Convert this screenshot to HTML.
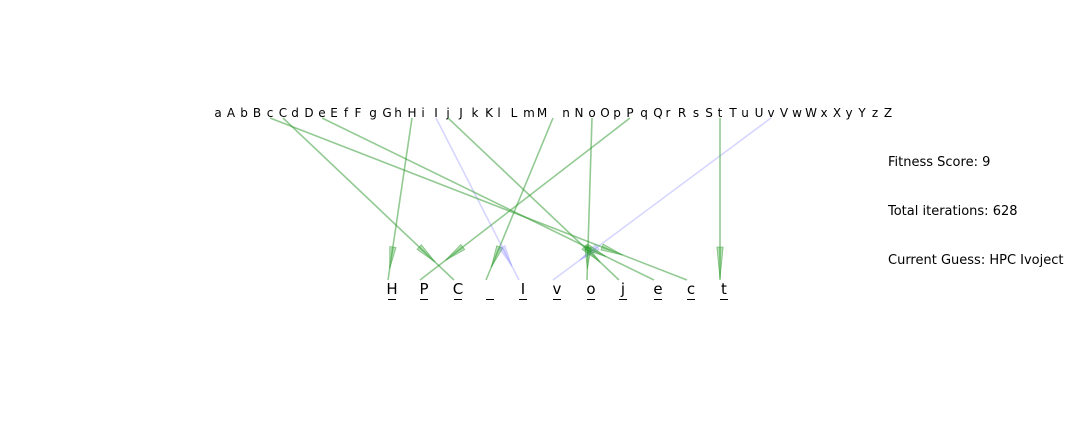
<!DOCTYPE html>
<html><head><meta charset="utf-8"><style>
html,body{margin:0;padding:0;background:#fff;}
svg{display:block;font-family:"DejaVu Sans","Liberation Sans",sans-serif;}
</style></head><body>
<svg id="chart" width="1080" height="432" viewBox="0 0 1080 432">
<g id="topRow"></g>
<g id="arrows"></g>
<g id="bottomRow"></g>
<text x="888" y="166" font-size="13">Fitness Score: 9</text>
<text x="888" y="215" font-size="13">Total iterations: 628</text>
<text x="888" y="264" font-size="13">Current Guess: HPC Ivoject</text>
</svg>
<script>
const alphabet = "aAbBcCdDeEfFgGhHiIjJkKlLmM nNoOpPqQrRsStTuUvVwWxXyYzZ".split("");
const alphaX = [218,231,244,257,270,283,295,309,322,334,346,358,373,387,398,412,423,436,448,461,475,489,499,514,529,542,553,566,579,592,605,617,630,644,658,668,682,696,709,720,733,745,759,771,784,797,811,824,837,849,862,875,888];
const guess = ["H","P","C"," ","I","v","o","j","e","c","t"];
const guessX = [392,424,458,490,523,557,591,623,658,691,724];
const correct = [true,true,true,true,false,false,true,true,true,true,true];
const sourceIdx = [15,32,5,26,17,43,29,18,8,4,39];
const NS="http://www.w3.org/2000/svg";
const gTop=document.getElementById('topRow'),gBot=document.getElementById('bottomRow'),gArr=document.getElementById('arrows');
alphabet.forEach((ch,i)=>{
  if(ch===" ")return;
  const t=document.createElementNS(NS,'text');
  
  
  t.setAttribute('x',alphaX[i]);t.setAttribute('y',117);t.setAttribute('font-size','12');t.setAttribute('text-anchor','middle');
  t.textContent=ch;gTop.appendChild(t);
});
guess.forEach((ch,i)=>{
  const t=document.createElementNS(NS,'text');
  
  
  t.setAttribute('x',guessX[i]);t.setAttribute('y',294);t.setAttribute('font-size','15');t.setAttribute('text-anchor','middle');
  t.textContent=ch;gBot.appendChild(t);
  const u=document.createElementNS(NS,'line');
  
  
  u.setAttribute('x1',guessX[i]-4);u.setAttribute('x2',guessX[i]+4);u.setAttribute('y1',299.5);u.setAttribute('y2',299.5);
  u.setAttribute('stroke','#000');u.setAttribute('stroke-width','1');gBot.appendChild(u);
});
guess.forEach((ch,i)=>{
  const x1=alphaX[sourceIdx[i]],y1=118,x2=guessX[i]-4,y2=280;
  const col=correct[i]?'rgba(40,150,40,0.5)':'rgba(120,120,255,0.3)';
  const fill=correct[i]?'rgba(40,160,40,0.35)':'rgba(120,120,255,0.25)';
  const l=document.createElementNS(NS,'line');
  
  
  l.setAttribute('x1',x1);l.setAttribute('y1',y1);l.setAttribute('x2',x2);l.setAttribute('y2',y2);
  l.setAttribute('stroke',col);l.setAttribute('stroke-width','1.6');gArr.appendChild(l);
  const dx=x2-x1,dy=y2-y1,len=Math.hypot(dx,dy),ux=dx/len,uy=dy/len;
  const t0=(247-y1)/uy; const bx=x1+ux*t0,by=247;
  const hl=Math.abs(dx)<2?32:22;
  const tx=bx+ux*hl,ty=by+uy*hl,px=-uy*3.2,py=ux*3.2;
  const p=document.createElementNS(NS,'polygon');
  
  
  p.setAttribute('points',`${bx+px},${by+py} ${tx},${ty} ${bx-px},${by-py}`);
  p.setAttribute('fill',fill);p.setAttribute('stroke',col);p.setAttribute('stroke-width','0.8');gArr.appendChild(p);
});
</script>
</body></html>
